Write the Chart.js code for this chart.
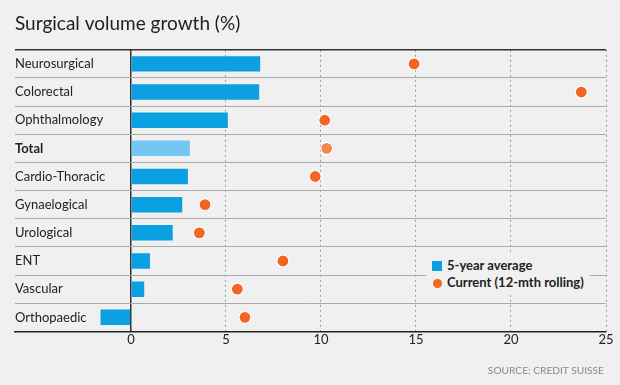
<!DOCTYPE html>
<html>
<head>
<meta charset="utf-8">
<script src="https://cdn.jsdelivr.net/npm/chart.js@4.4.0/dist/chart.umd.min.js"></script>
<style>
  html, body { margin: 0; padding: 0; background: #f0f0f0; }
  #wrap { position: relative; width: 620px; height: 385px; font-family: Lato, "Noto Sans", sans-serif; }
  #legend { position: absolute; left: 426px; top: 253px; background: #f0f0f0; padding: 4px 6px; font-weight: bold; font-size: 13px; color: #222; line-height: 17px; }
  #legend .sw { display: inline-block; width: 10px; height: 10px; margin-right: 5px; vertical-align: -1px; }
  #legend .dot { display: inline-block; width: 9px; height: 9px; border-radius: 50%; margin: 0 5px 0 1px; vertical-align: -1px; }
  #source { position: absolute; right: 16px; top: 364px; font-size: 10.2px; color: #8a8a8a; }
</style>
</head>
<body>
<div id="wrap">
  <canvas id="chart" width="620" height="385"></canvas>
  <div id="legend">
    <div><span class="sw" style="background:#0aa0e2"></span>5-year average</div>
    <div><span class="dot" style="background:#f26522"></span>Current (12-mth rolling)</div>
  </div>
  <div id="source">SOURCE: CREDIT SUISSE</div>
</div>
<script>
// --- DATA ---
const categories = ['Neurosurgical', 'Colorectal', 'Ophthalmology', 'Total', 'Cardio-Thoracic',
  'Gynaelogical', 'Urological', 'ENT', 'Vascular', 'Orthopaedic'];
const fiveYearAvg = [6.8, 6.75, 5.1, 3.1, 3.0, 2.7, 2.2, 1.0, 0.7, -1.6];
const current12m = [14.9, 23.7, 10.2, 10.3, 9.7, 3.9, 3.6, 8.0, 5.6, 6.0];
const xTicks = [0, 5, 10, 15, 20, 25];

// Total row gets the lighter shades
const barColors = categories.map(c => c === 'Total' ? '#74c7f2' : '#0aa0e2');
const dotColors = categories.map(c => c === 'Total' ? '#f5864c' : '#f26522');

const ctx = document.getElementById('chart').getContext('2d');
new Chart(ctx, {
    type: 'bar',
    data: {
        labels: categories,
        datasets: [
            {
                type: 'line',
                label: 'Current (12-mth rolling)',
                data: current12m,
                indexAxis: 'y',
                showLine: false,
                pointRadius: 6,
                pointBackgroundColor: dotColors,
                pointBorderColor: '#ffffff',
                pointBorderWidth: 1.2,
                order: 0
            },
            {
                label: '5-year average',
                data: fiveYearAvg,
                indexAxis: 'y',
                backgroundColor: barColors,
                categoryPercentage: 0.55,
                barPercentage: 1,
                order: 1
            }
        ]
    },
    options: {
        indexAxis: 'y',
        responsive: false,
        animation: false,
        layout: { padding: { left: 15, right: 14, top: 0, bottom: 36 } },
        plugins: {
            legend: { display: false },
            tooltip: { enabled: false },
            title: {
                display: true,
                text: 'Surgical volume growth (%)',
                align: 'start',
                color: '#222',
                font: { family: 'Lato', size: 19, weight: 'normal' },
                padding: { top: 12, bottom: 15 }
            }
        },
        scales: {
            x: {
                min: -6.1,
                max: 25,
                afterBuildTicks: scale => { scale.ticks = xTicks.map(v => ({ value: v })); },
                grid: {
                    drawTicks: false,
                    color: c => c.tick && c.tick.value === 0 ? '#333' : '#999999',
                    lineWidth: c => c.tick && c.tick.value === 0 ? 1.5 : 1
                },
                border: {
                    display: true,
                    color: '#222',
                    width: 1.5,
                    dash: c => c.tick && c.tick.value === 0 ? [] : [2, 3]
                },
                ticks: {
                    color: '#222',
                    padding: 1,
                    font: { family: 'Lato', size: 13 }
                }
            },
            y: {
                grid: {
                    offset: true,
                    drawTicks: false,
                    color: c => c.index === 0 ? '#333' : '#aaaaaa',
                    lineWidth: c => c.index === 0 ? 1.5 : 1
                },
                border: { display: false },
                ticks: {
                    mirror: true,
                    padding: 0,
                    color: '#222',
                    font: c => ({
                        family: 'Lato',
                        size: 13,
                        weight: categories[c.index] === 'Total' ? 'bold' : 'normal'
                    })
                }
            }
        }
    }
});
</script>
</body>
</html>
